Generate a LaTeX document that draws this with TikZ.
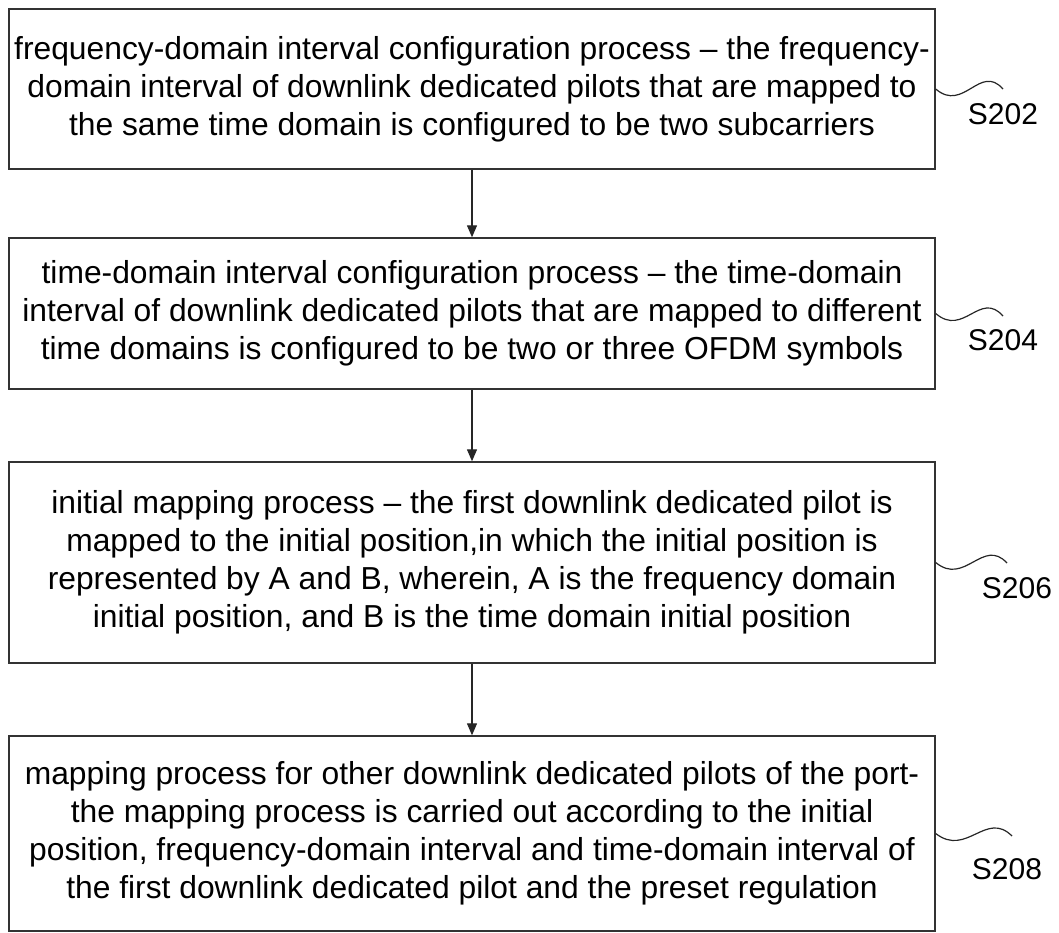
\documentclass[tikz,border=0pt]{standalone}
\usepackage{fontspec}
\setmainfont{Liberation Sans}
\usetikzlibrary{arrows.meta}

\begin{document}
\begin{tikzpicture}[x=1pt, y=-1pt,
        stepbox/.style={draw=black!80, line width=1.4pt, minimum width=926pt, inner sep=0pt, align=center, font=\fontsize{31.8}{38}\selectfont},
        flow/.style={draw=black!85, line width=1.3pt, -{Triangle[length=12pt, width=10pt]}},
        wave/.style={draw=black!85, line width=1.2pt},
        tag/.style={inner sep=0pt, font=\fontsize{30}{36}\selectfont}]
        \useasboundingbox (0,0) rectangle (1059,933);

        \node[stepbox, minimum height=160pt] (s202) at (472,89) {frequency-domain interval configuration process -- the frequency-\\domain interval of downlink dedicated pilots that are mapped to\\the same time domain is configured to be two subcarriers};
        \node[stepbox, minimum height=151pt] (s204) at (472,313.5) {time-domain interval configuration process -- the time-domain\\interval of downlink dedicated pilots that are mapped to different\\time domains is configured to be two or three OFDM symbols};
        \node[stepbox, minimum height=201pt] (s206) at (472,562.5) {initial mapping process -- the first downlink dedicated pilot is\\mapped to the initial position,in which the initial position is\\represented by A and B, wherein, A is the frequency domain\\initial position, and B is the time domain initial position};
        \node[stepbox, minimum height=195pt] (s208) at (472,833.5) {mapping process for other downlink dedicated pilots of the port-\\the mapping process is carried out according to the initial\\position, frequency-domain interval and time-domain interval of\\the first downlink dedicated pilot and the preset regulation};

        \node[tag] (l202) at (1003,114) {S202};
        \node[tag] (l204) at (1003,340) {S204};
        \node[tag] (l206) at (1017,588) {S206};
        \node[tag] (l208) at (1007,869) {S208};

        \coordinate (t202) at (1003,89);
        \coordinate (t204) at (1003,316);
        \coordinate (t206) at (1007,563);
        \coordinate (t208) at (1012,836);

        \draw[flow] (s202) to (s204);
        \draw[flow] (s204) to (s206);
        \draw[flow] (s206) to (s208);

        \draw[wave] (s202.east) .. controls +(28,24) and +(-23,-26) .. (t202);
        \draw[wave] (s204.east) .. controls +(28,24) and +(-23,-26) .. (t204);
        \draw[wave] (s206.east) .. controls +(29,24) and +(-24,-26) .. (t206);
        \draw[wave] (s208.east) .. controls +(31,24) and +(-26,-26) .. (t208);
    \end{tikzpicture}
\end{document}
